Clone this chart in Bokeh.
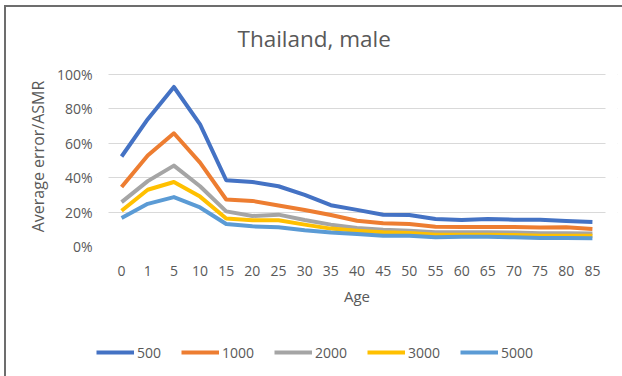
from bokeh.plotting import figure
from bokeh.layouts import column
from bokeh.models import (Legend, LegendItem, NumeralTickFormatter, FactorRange,
                          BoxAnnotation)
from bokeh.embed import file_html
from bokeh.resources import INLINE

ages = ["0", "1", "5", "10", "15", "20", "25", "30", "35", "40", "45", "50",
        "55", "60", "65", "70", "75", "80", "85"]
# values (fractions)
s500 = [0.523, 0.740, 0.927, 0.710, 0.385, 0.375, 0.350, 0.300, 0.240, 0.213, 0.185,
        0.183, 0.160, 0.154, 0.160, 0.156, 0.156, 0.148, 0.142]
s1000 = [0.346, 0.529, 0.658, 0.487, 0.273, 0.265, 0.238, 0.212, 0.183, 0.150, 0.135,
         0.131, 0.115, 0.113, 0.113, 0.113, 0.110, 0.112, 0.102]
s2000 = [0.258, 0.380, 0.470, 0.350, 0.204, 0.177, 0.185, 0.154, 0.127, 0.108, 0.098,
         0.092, 0.083, 0.083, 0.083, 0.081, 0.077, 0.077, 0.075]
s3000 = [0.208, 0.330, 0.375, 0.290, 0.163, 0.152, 0.152, 0.127, 0.104, 0.092, 0.083,
         0.079, 0.069, 0.069, 0.069, 0.067, 0.063, 0.063, 0.062]
s5000 = [0.165, 0.248, 0.287, 0.227, 0.131, 0.117, 0.112, 0.094, 0.081, 0.073, 0.063,
         0.062, 0.054, 0.056, 0.056, 0.054, 0.050, 0.050, 0.048]
series_names = ["500", "1000", "2000", "3000", "5000"]
series_vals = [s500, s1000, s2000, s3000, s5000]
colors = ["#4472C4", "#ED7D31", "#A5A5A5", "#FFC000", "#5B9BD5"]

FONT = "Open Sans"
TXT = "#595959"

xr = FactorRange(*ages, range_padding=0.04828, range_padding_units="percent")
p = figure(x_range=xr, y_range=(0, 1.046),
           width=616, height=314, output_backend="svg", toolbar_location=None,
           min_border_left=90, min_border_right=5, min_border_top=58,
           min_border_bottom=75)

p.title.text = "Thailand, male"
p.title.align = "left"
p.title.text_font = FONT
p.title.text_font_size = "22.5px"
p.title.text_font_style = "normal"
p.title.text_color = TXT
p.title.offset = 141
p.title.standoff = 26

for name, vals, c in zip(series_names, series_vals, colors):
    p.line(ages, vals, line_color=c, line_width=4, line_join="round")

p.outline_line_color = None
p.background_fill_color = None
p.border_fill_color = "white"
p.xgrid.grid_line_color = None
p.ygrid.grid_line_color = "#d9d9d9"
p.ygrid.grid_line_width = 1
p.yaxis.ticker = [0, 0.2, 0.4, 0.6, 0.8, 1.0]
p.yaxis.formatter = NumeralTickFormatter(format="0%")

# keep gridlines within the category span (plot area of the original)
p.add_layout(BoxAnnotation(right=0, fill_color="white", fill_alpha=1, line_alpha=0))
p.add_layout(BoxAnnotation(left=len(ages), fill_color="white", fill_alpha=1,
                           line_alpha=0))

for ax in (p.xaxis[0], p.yaxis[0]):
    ax.axis_line_color = None
    ax.major_tick_line_color = None
    ax.minor_tick_line_color = None
    ax.major_label_text_font = FONT
    ax.major_label_text_font_size = "14px"
    ax.major_label_text_color = TXT
    ax.axis_label_text_font = FONT
    ax.axis_label_text_font_size = "16px"
    ax.axis_label_text_font_style = "normal"
    ax.axis_label_text_color = TXT

p.xaxis.axis_label = "Age"
p.yaxis.axis_label = "Average error/ASMR"
p.xaxis.axis_label_text_font_size = "15px"
p.xaxis.major_label_standoff = 13
p.xaxis.axis_label_standoff = 7
p.yaxis.major_tick_out = 0
p.yaxis.major_tick_in = 0
p.yaxis.major_label_standoff = 4
p.yaxis.axis_label_standoff = 5

# legend strip below the chart (series drawn off-range, only the legend shows)
pl = figure(width=616, height=55, x_range=FactorRange(*ages, range_padding=0),
            y_range=(10, 11), output_backend="svg", toolbar_location=None,
            min_border=0)
pl.axis.visible = False
pl.grid.visible = False
pl.outline_line_color = None
pl.background_fill_color = None
pl.border_fill_color = "white"
items = []
for name, vals, c in zip(series_names, series_vals, colors):
    r = pl.line(ages, vals, line_color=c, line_width=4)
    items.append(LegendItem(label=name, renderers=[r]))
legend = Legend(items=items, orientation="horizontal", location=(0, 14),
                glyph_width=38, glyph_height=20, label_standoff=3, spacing=20,
                padding=0, margin=0, border_line_color=None, background_fill_alpha=0,
                label_text_font=FONT, label_text_font_size="14px",
                label_text_color=TXT)
pl.add_layout(legend, "center")

layout = column(p, pl, spacing=0,
                styles={"border-left": "2px solid #6d6d6d",
                        "border-top": "2px solid #6d6d6d",
                        "margin-left": "4px", "margin-top": "5px"})

open("out.html", "w").write(file_html(layout, INLINE))
